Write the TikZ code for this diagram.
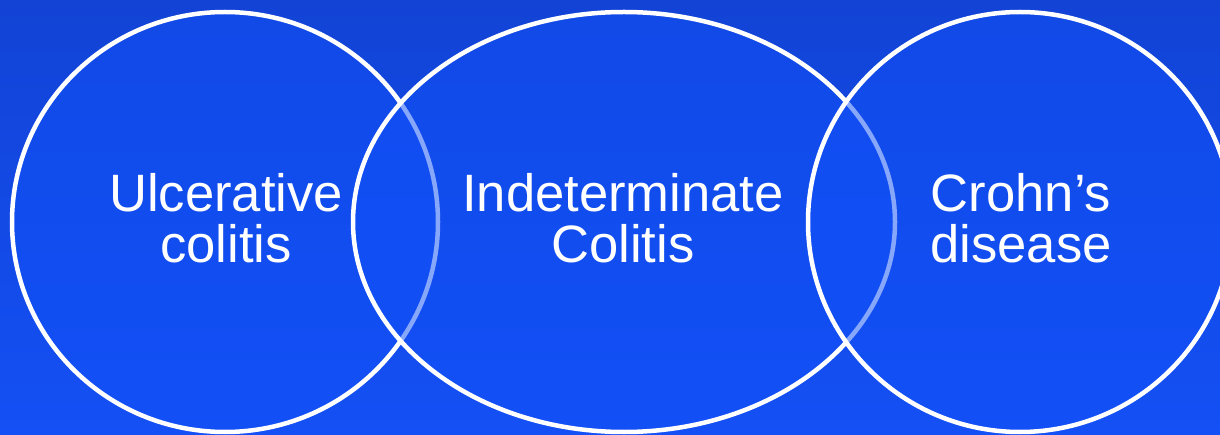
\documentclass[tikz,border=0pt]{standalone}
\usepackage{fontspec}
\setmainfont{Liberation Sans}
\usetikzlibrary{shapes.geometric}
\definecolor{bgtop}{HTML}{1243D5}
\definecolor{bgbottom}{HTML}{1450F5}
\definecolor{vennfill}{HTML}{1150F8}
\begin{document}
\begin{tikzpicture}[x=1pt,y=-1pt,
  venn/.style={ellipse, draw=white, line width=4.5pt, fill=vennfill, fill opacity=0.5, inner sep=0pt},
  lbl/.style={text=white, align=center, font=\fontsize{52.6}{51}\selectfont, inner sep=0pt}]
\useasboundingbox (0,0) rectangle (1220,435);
\shade[top color=bgtop, bottom color=bgbottom] (0,0) rectangle (1220,435);
\node[venn, minimum width=426pt, minimum height=420pt] (uc) at (225,222) {};
\node[venn, minimum width=542pt, minimum height=420pt] (ic) at (624,222) {};
\node[venn, minimum width=424pt, minimum height=420pt] (cd) at (1020,222) {};
\node[lbl] (uct) at (226,218.5) {Ulcerative\\colitis};
\node[lbl] (ict) at (623,218.5) {Indeterminate\\Colitis};
\node[lbl] (cdt) at (1021,218.5) {Crohn’s\\disease};
\end{tikzpicture}
\end{document}
